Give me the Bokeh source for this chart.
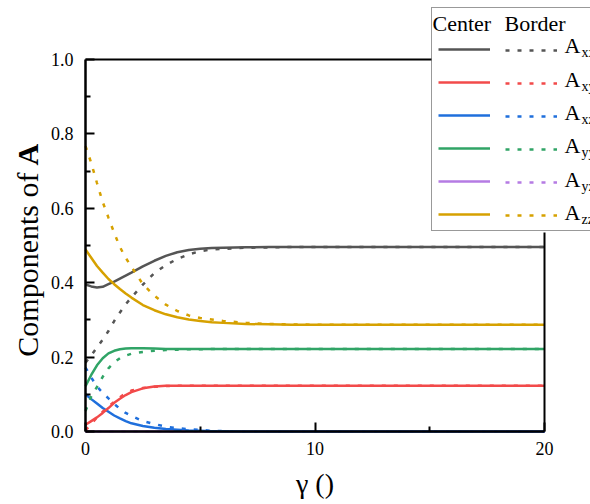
from math import pi

from bokeh.plotting import figure
from bokeh.models import FixedTicker, Label, Legend, LegendItem, LinearAxis, Range1d
from bokeh.core.properties import value
from bokeh.embed import file_html
from bokeh.resources import INLINE

# shear rate grid
gamma = [0, 0.25, 0.5, 0.75, 1, 1.25, 1.5, 1.75, 2, 2.5, 3, 3.5, 4, 4.5,
         5, 5.5, 6, 7, 8, 9, 10, 12, 14, 16, 18, 20]

# orientation tensor components at the centre
center_xx = [0.395, 0.390, 0.387, 0.389, 0.396, 0.403, 0.411, 0.419, 0.427, 0.444,
             0.459, 0.472, 0.482, 0.488, 0.491, 0.493, 0.494, 0.495, 0.496, 0.496,
             0.496, 0.496, 0.496, 0.496, 0.496, 0.496]
center_xy = [0.018, 0.028, 0.038, 0.050, 0.063, 0.077, 0.088, 0.098, 0.106, 0.116,
             0.121, 0.123, 0.123, 0.123, 0.123, 0.123, 0.123, 0.123, 0.123, 0.123,
             0.123, 0.123, 0.123, 0.123, 0.123, 0.123]
center_xz = [0.100, 0.087, 0.075, 0.063, 0.053, 0.043, 0.035, 0.028, 0.022, 0.015,
             0.010, 0.007, 0.005, 0.003, 0.002, 0.001, 0.001, 0.0, 0.0, 0.0,
             0.0, 0.0, 0.0, 0.0, 0.0, 0.0]
center_yy = [0.122, 0.152, 0.178, 0.197, 0.210, 0.217, 0.221, 0.223, 0.224, 0.224,
             0.223, 0.222, 0.222, 0.222, 0.222, 0.222, 0.222, 0.222, 0.222, 0.222,
             0.222, 0.222, 0.222, 0.222, 0.222, 0.222]
center_yz = [0.0] * 26
center_zz = [0.489, 0.467, 0.445, 0.427, 0.410, 0.396, 0.383, 0.371, 0.360, 0.340,
             0.326, 0.315, 0.307, 0.301, 0.297, 0.294, 0.292, 0.289, 0.288, 0.287,
             0.287, 0.287, 0.287, 0.287, 0.287, 0.287]

# orientation tensor components at the border
border_xx = [0.185, 0.205, 0.226, 0.247, 0.270, 0.297, 0.320, 0.342, 0.360, 0.395,
             0.426, 0.447, 0.464, 0.476, 0.485, 0.489, 0.491, 0.494, 0.495, 0.496,
             0.496, 0.496, 0.496, 0.496, 0.496, 0.496]
border_xy = [0.003, 0.020, 0.038, 0.053, 0.067, 0.080, 0.092, 0.103, 0.110, 0.117,
             0.120, 0.122, 0.123, 0.123, 0.123, 0.123, 0.123, 0.123, 0.123, 0.123,
             0.123, 0.123, 0.123, 0.123, 0.123, 0.123]
border_xz = [0.172, 0.145, 0.121, 0.104, 0.089, 0.074, 0.061, 0.050, 0.042, 0.028,
             0.020, 0.013, 0.009, 0.006, 0.004, 0.002, 0.001, 0.0, 0.0, 0.0,
             0.0, 0.0, 0.0, 0.0, 0.0, 0.0]
border_yy = [0.055, 0.094, 0.120, 0.147, 0.170, 0.186, 0.197, 0.204, 0.209, 0.214,
             0.217, 0.219, 0.220, 0.221, 0.221, 0.222, 0.222, 0.222, 0.222, 0.222,
             0.222, 0.222, 0.222, 0.222, 0.222, 0.222]
border_yz = [0.0] * 26
border_zz = [0.767, 0.722, 0.668, 0.617, 0.575, 0.534, 0.496, 0.467, 0.443, 0.396,
             0.365, 0.341, 0.324, 0.312, 0.305, 0.301, 0.297, 0.292, 0.289, 0.288,
             0.287, 0.287, 0.287, 0.287, 0.287, 0.287]

components = ["xx", "xy", "xz", "yy", "yz", "zz"]
colors = ["#555555", "#f24a4a", "#1f6fdc", "#30a466", "#b57be3", "#d6a100"]
center = [center_xx, center_xy, center_xz, center_yy, center_yz, center_zz]
border = [border_xx, border_xy, border_xz, border_yy, border_yz, border_zz]

x_ticks = [0, 10, 20]
x_minor = [5, 15]
y_ticks = [0.0, 0.2, 0.4, 0.6, 0.8, 1.0]
y_minor = [0.1, 0.3, 0.5, 0.7, 0.9]

FONT = "Liberation Serif"
W, H = 590, 504
# data box inside the canvas (pixels)
LEFT, TOP, FW, FH = 85, 59, 459, 372
X0, X1, Y0, Y1 = 0, 20, 0, 1
# legend box edges (pixels)
LEG_L, LEG_T, LEG_B = 431, 7, 232


def dx(sx):
    return X0 + (sx - LEFT) / FW * (X1 - X0)


def dy(sy):
    return Y0 + (TOP + FH - sy) / FH * (Y1 - Y0)


# the frame spans the whole canvas; axes are pinned to the data box edges
p = figure(frame_width=W, frame_height=H,
           min_border=0, min_border_left=0, min_border_right=0,
           min_border_top=0, min_border_bottom=0,
           x_range=Range1d(dx(0), dx(W)), y_range=Range1d(dy(H), dy(0)),
           output_backend="svg", toolbar_location=None)

p.grid.visible = False
p.background_fill_color = "white"
p.border_fill_color = "white"
p.outline_line_color = None

p.xaxis.fixed_location = Y0
p.yaxis.fixed_location = X0
p.xaxis.bounds = (X0, X1)
p.yaxis.bounds = (Y0, Y1)
p.xaxis.ticker = FixedTicker(ticks=x_ticks, minor_ticks=x_minor)
p.yaxis.ticker = FixedTicker(ticks=y_ticks, minor_ticks=y_minor)
p.xaxis.major_label_overrides = {0: "0", 10: "10", 20: "20"}
p.yaxis.major_label_overrides = {t: f"{t:.1f}" for t in y_ticks}

for ax in (p.xaxis, p.yaxis):
    ax.axis_line_width = 2.5
    ax.axis_line_color = "black"
    ax.major_tick_in = 9
    ax.major_tick_out = 0
    ax.minor_tick_in = 5
    ax.minor_tick_out = 0
    ax.major_tick_line_width = 2
    ax.minor_tick_line_width = 2
    ax.major_tick_line_color = "black"
    ax.minor_tick_line_color = "black"
    ax.major_label_text_font = FONT
    ax.major_label_text_font_size = "18px"
    ax.major_label_text_color = "black"

p.yaxis.major_label_standoff = 12
p.xaxis.major_label_standoff = 10
p.xaxis.axis_label = "γ ()"
p.xaxis.axis_label_text_font = FONT
p.xaxis.axis_label_text_font_size = "28px"
p.xaxis.axis_label_text_font_style = "normal"
p.xaxis.axis_label_text_color = "black"
p.xaxis.axis_label_standoff = 10

# top and right edges of the data box, stopping at the legend box
top_edge = LinearAxis(fixed_location=Y1, bounds=(X0, dx(LEG_L)),
                      ticker=FixedTicker(ticks=[]), axis_line_width=2,
                      axis_line_color="black", major_label_text_alpha=0)
right_edge = LinearAxis(fixed_location=X1, bounds=(Y0, dy(LEG_B)),
                        ticker=FixedTicker(ticks=[]), axis_line_width=2,
                        axis_line_color="black", major_label_text_alpha=0)
p.add_layout(top_edge, "above")
p.add_layout(right_edge, "right")

solid_r, dot_r = {}, {}
order = [4, 2, 1, 3, 0, 5]
for i in order:
    solid_r[i] = p.line(gamma, center[i], line_color=colors[i], line_width=2.5)
for i in order:
    dot_r[i] = p.line(gamma, border[i], line_color=colors[i], line_width=2.5,
                      line_dash="4 8")

# y axis title with a bold tensor symbol
p.add_layout(Label(x=dx(27), y=dy(172), text="Components of", angle=pi / 2,
                   text_align="right", text_baseline="middle",
                   text_font=FONT, text_font_size="30px", text_color="black"))
p.add_layout(Label(x=dx(27), y=dy(165), text="A", angle=pi / 2,
                   text_align="left", text_baseline="middle",
                   text_font=FONT, text_font_size="30px", text_font_style="bold",
                   text_color="black"))

# legend box: centre column (solid)
leg1 = Legend(items=[LegendItem(label=value(""), renderers=[solid_r[i]]) for i in range(6)],
              location=(LEG_L, H - LEG_B + 1), orientation="vertical",
              glyph_width=52, glyph_height=20, label_height=20, label_width=110,
              label_standoff=4, spacing=13, padding=6, margin=0,
              title="Center", title_text_alpha=0, title_text_font=FONT,
              title_text_font_size="21px", title_standoff=0,
              border_line_color="#333333", border_line_width=1.5,
              background_fill_alpha=0)
# border column (dotted)
leg2 = Legend(items=[LegendItem(label=value(""), renderers=[dot_r[i]]) for i in range(6)],
              location=(505, H - 225), orientation="vertical",
              glyph_width=52, glyph_height=20, label_height=20, label_width=0,
              label_standoff=0, spacing=13, padding=0, margin=0,
              border_line_alpha=0, background_fill_alpha=0)
p.add_layout(leg1, "center")
p.add_layout(leg2, "center")

# legend header and row labels
p.add_layout(Label(x=dx(432), y=dy(23), text="Center", text_font=FONT,
                   text_font_size="22px", text_color="black",
                   text_baseline="alphabetic"))
p.add_layout(Label(x=dx(504), y=dy(23), text="Border", text_font=FONT,
                   text_font_size="22px", text_color="black",
                   text_baseline="alphabetic"))

row0, pitch = 48.3, 33.35
for k, comp in enumerate(components):
    cy = row0 + k * pitch
    p.add_layout(Label(x=dx(564), y=dy(cy - 3), text="A", text_font=FONT,
                       text_font_size="22px", text_color="black",
                       text_baseline="alphabetic"))
    p.add_layout(Label(x=dx(581), y=dy(cy + 4), text=comp, text_font=FONT,
                       text_font_size="14px", text_color="black",
                       text_baseline="alphabetic"))

open("out.html", "w").write(file_html(p, INLINE))
